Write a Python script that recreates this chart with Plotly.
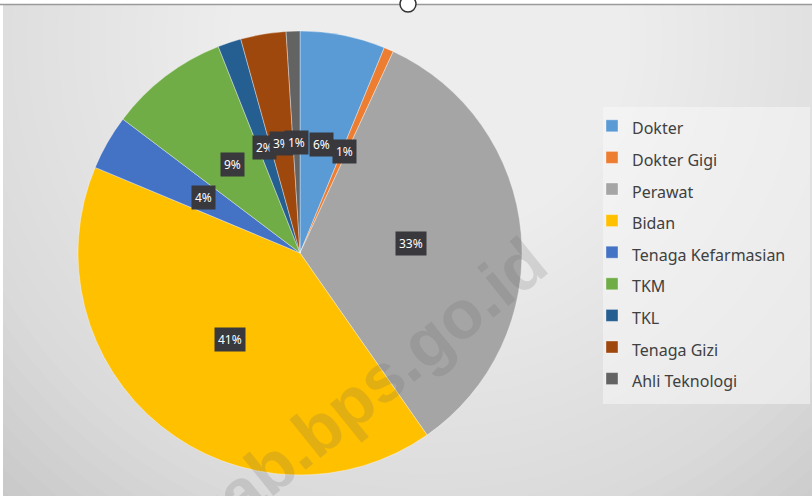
import math
import plotly.graph_objects as go

# ---- data ----
categories = ["Dokter", "Dokter Gigi", "Perawat", "Bidan", "Tenaga Kefarmasian",
              "TKM", "TKL", "Tenaga Gizi", "Ahli Teknologi"]
values = [6.2, 0.7, 33.4, 41.0, 4.0, 8.7, 1.7, 3.3, 1.0]
slice_colors = ["#5B9BD5", "#ED7D31", "#A5A5A5", "#FFC000", "#4472C4",
                "#70AD47", "#255E91", "#9E480E", "#636363"]

W, H = 812, 496
CX, CY, R = 300, 253, 222  # pie centre / radius in px

fig = go.Figure()
fig.add_trace(go.Pie(
    labels=[f'<span style="font-size:16px">{c}</span>' for c in categories],
    values=values,
    sort=False,
    direction="clockwise",
    rotation=0,
    marker=dict(colors=slice_colors, line=dict(color="rgba(255,255,255,0.6)", width=0.6)),
    textinfo="none",
    hoverinfo="label+percent",
    domain=dict(x=[(CX - R) / W, (CX + R) / W], y=[1 - (CY + R) / H, 1 - (CY - R) / H]),
))

# data labels at half radius, slice mid-angle
annotations = []
total = sum(values)
cum = 0.0
for c, v in zip(categories, values):
    mid = (cum + v / 2) / total
    cum += v
    th = 2 * math.pi * mid
    px = CX + 0.5 * R * math.sin(th)
    py = CY - 0.5 * R * math.cos(th)
    annotations.append(dict(
        x=px / W, y=1 - py / H, xref="paper", yref="paper",
        xanchor="center", yanchor="middle",
        text=f"{round(v / total * 100):.0f}%", showarrow=False,
        font=dict(family="Noto Sans", size=12, color="white"),
        bgcolor="#38383d", borderpad=3,
    ))

# watermark
annotations.append(dict(
    x=366 / W, y=1 - 390 / H, xref="paper", yref="paper",
    xanchor="center", yanchor="middle",
    text="<b>kab.bps.go.id</b>", showarrow=False, textangle=-39,
    font=dict(family="Liberation Sans", size=68, color="rgba(100,100,100,0.19)"),
))

# background radial gradient built from translucent ellipses
shapes = []
N = 40
GX, GY, RMAX = 430, 40, 620
for k in range(N, 0, -1):
    r = RMAX * k / N
    shapes.append(dict(type="circle", xref="paper", yref="paper", layer="below",
                       x0=(GX - r) / W, x1=(GX + r) / W,
                       y0=1 - (GY + r) / H, y1=1 - (GY - r) / H,
                       fillcolor="rgba(255,255,255,0.05)", line=dict(width=0)))
# legend panel
shapes.append(dict(type="rect", xref="paper", yref="paper", layer="below",
                   x0=603 / W, x1=810 / W, y0=1 - 404 / H, y1=1 - 107 / H,
                   fillcolor="rgba(250,250,250,0.5)", line=dict(width=0)))
# screenshot frame
shapes.append(dict(type="rect", xref="paper", yref="paper", x0=0, x1=1, y0=1 - 4 / H, y1=1,
                   fillcolor="white", line=dict(width=0), layer="below"))
shapes.append(dict(type="rect", xref="paper", yref="paper", x0=0, x1=3 / W, y0=0, y1=1,
                   fillcolor="white", line=dict(width=0), layer="below"))
shapes.append(dict(type="line", xref="paper", yref="paper", x0=0, x1=1, y0=1 - 4.5 / H, y1=1 - 4.5 / H,
                   line=dict(color="#9a9a9a", width=1.5)))
shapes.append(dict(type="circle", xref="paper", yref="paper",
                   x0=400 / W, x1=416 / W, y0=1 - 12 / H, y1=1 + 4 / H,
                   fillcolor="white", line=dict(color="#333333", width=1.5)))

fig.update_layout(
    width=W, height=H,
    margin=dict(l=0, r=0, t=0, b=0),
    paper_bgcolor="#c8c8c8",
    plot_bgcolor="rgba(0,0,0,0)",
    showlegend=True,
    legend=dict(
        x=592 / W, y=1 - 105 / H, xanchor="left", yanchor="top",
        bgcolor="rgba(0,0,0,0)",
        font=dict(family="Noto Sans", size=22, color="#404040"),
        itemclick=False,
    ),
    annotations=annotations,
    shapes=shapes,
)

fig.write_html("out.html", config={"displayModeBar": False},
               post_script="document.body.style.margin='0';")
